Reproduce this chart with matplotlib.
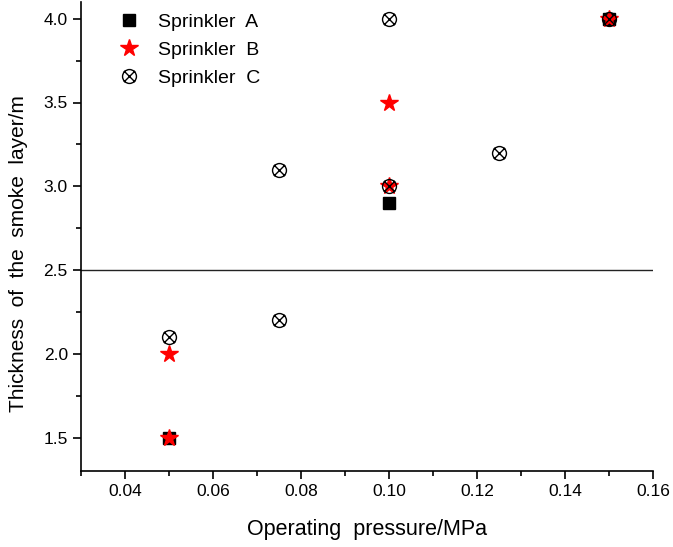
import matplotlib
matplotlib.use("Agg")
import matplotlib.pyplot as plt
from matplotlib.path import Path
from matplotlib.ticker import MultipleLocator

plt.rcParams['font.family'] = ['Liberation Sans', 'DejaVu Sans']

# Data
a_x = [0.05, 0.10, 0.15]
a_y = [1.5, 2.9, 4.0]
b_x = [0.05, 0.05, 0.10, 0.10, 0.15]
b_y = [1.5, 2.0, 3.5, 3.0, 4.0]
c_x = [0.05, 0.075, 0.075, 0.10, 0.10, 0.125, 0.15]
c_y = [2.1, 3.1, 2.2, 4.0, 3.0, 3.2, 4.0]
threshold = 2.5
labels = ["Sprinkler  A", "Sprinkler  B", "Sprinkler  C"]
x_ticks = [0.04, 0.06, 0.08, 0.10, 0.12, 0.14, 0.16]
x_ticklabels = ['0.04', '0.06', '0.08', '0.10', '0.12', '0.14', '0.16']
y_ticks = [1.5, 2.0, 2.5, 3.0, 3.5, 4.0]
y_ticklabels = ['1.5', '2.0', '2.5', '3.0', '3.5', '4.0']

# circle with X marker
d = 0.8
xpath = Path([(-d, -d), (d, d), (-d, d), (d, -d)],
             [Path.MOVETO, Path.LINETO, Path.MOVETO, Path.LINETO])
otimes = Path.make_compound_path(Path.unit_circle(), xpath)

fig = plt.figure(figsize=(6.73, 5.47), dpi=100)
ax = fig.add_axes([81/673, 1-471/547, (653-81)/673, (471-2)/547])

ax.axhline(threshold, color='#222222', lw=1.0, zorder=1)
ax.plot(a_x, a_y, ls='none', marker='s', ms=9, color='black', label=labels[0], zorder=3)
ax.plot(b_x, b_y, ls='none', marker='*', ms=13, color='red', mec='red', label=labels[1], zorder=4)
ax.plot(c_x, c_y, ls='none', marker=otimes, ms=10, mfc='none', mec='black', mew=1.0,
        label=labels[2], zorder=5)

ax.set_xlim(0.03, 0.16)
ax.set_ylim(1.3, 4.1)
ax.xaxis.set_minor_locator(MultipleLocator(0.01))
ax.yaxis.set_minor_locator(MultipleLocator(0.25))
ax.set_xticks(x_ticks)
ax.set_xticklabels(x_ticklabels)
ax.set_yticks(y_ticks)
ax.set_yticklabels(y_ticklabels)

for s in ['top', 'right']:
    ax.spines[s].set_visible(False)
for s in ['left', 'bottom']:
    ax.spines[s].set_linewidth(1.2)
ax.tick_params(which='major', direction='out', length=6, width=1.2, labelsize=12.5)
ax.tick_params(which='minor', direction='out', length=3.5, width=1.2)

ax.set_xlabel("Operating  pressure/MPa", fontsize=15.5, labelpad=14)
ax.set_ylabel("Thickness  of  the  smoke  layer/m", fontsize=15)
ax.yaxis.set_label_coords(-0.093, 0.463)

leg = ax.legend(loc='upper left', frameon=False, fontsize=14, handletextpad=1.0,
                borderaxespad=0.0, bbox_to_anchor=(0.06, 0.985), labelspacing=0.55,
                handlelength=1.0, borderpad=0.2)

fig.savefig("out.png", dpi=100)
